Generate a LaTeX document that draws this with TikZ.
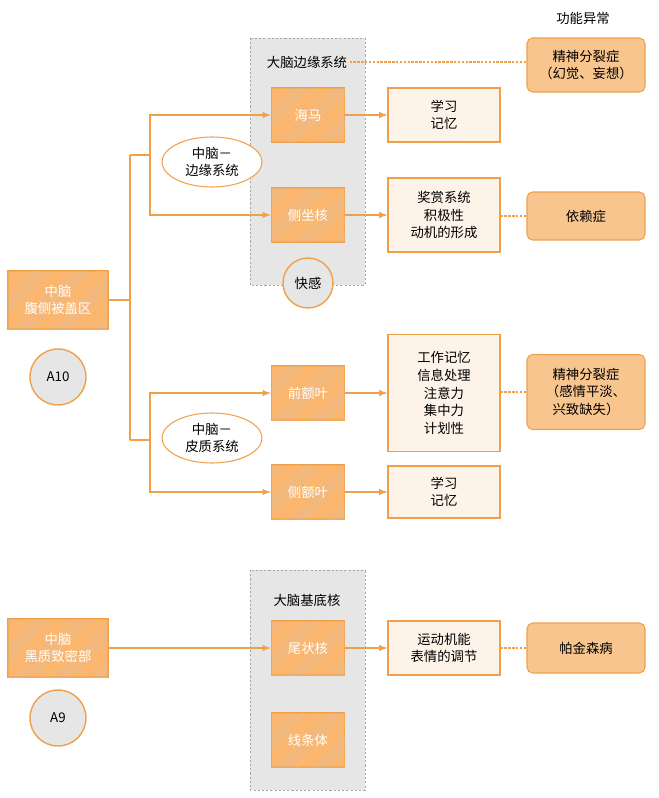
\documentclass[tikz,border=0pt]{standalone}
\usepackage{fontspec}
\setmainfont{Noto Sans CJK SC}
\usetikzlibrary{patterns,positioning,shapes.geometric}
\definecolor{org}{HTML}{F0A04B}
\definecolor{orgfill}{HTML}{F6B168}
\definecolor{pale}{HTML}{FDF3E8}
\definecolor{grayb}{HTML}{E6E6E6}
\tikzset{
  hatch/.style={draw=org, line width=2pt, fill=orgfill, text=white,
    postaction={pattern=north east lines, pattern color=orgfill!70!white}},
  mid/.style={hatch, minimum width=3.65cm, minimum height=2.7cm},
  info/.style={draw=org, line width=1.5pt, fill=pale, minimum width=5.6cm, align=center},
  ill/.style={draw=org, line width=1.5pt, fill=orgfill!75, rounded corners=8pt, minimum width=5.9cm, align=center},
  tag/.style={circle, draw=org, line width=2pt, fill=grayb, minimum size=2.8cm},
  sys/.style={ellipse, draw=org, line width=1.5pt, fill=white, align=center, minimum width=5cm, minimum height=2.5cm, inner sep=0pt},
  area/.style={draw=gray!70, dashed, line width=1pt, fill=grayb},
  con/.style={draw=org, line width=3pt},
  arr/.style={con, -latex},
  dot/.style={draw=org, line width=3.5pt, dotted}
}
\begin{document}
\begin{tikzpicture}[x=0.05cm, y=-0.05cm, font=\fontsize{19}{25}\selectfont]
\useasboundingbox (0,0) rectangle (658,798);
% grey areas
\filldraw[area] (250,38) rectangle (365,285);
\filldraw[area] (250,570) rectangle (365,790);
\node (limbic) at (307,62) {大脑边缘系统};
\node (basal) at (307,600) {大脑基底核};
\node (title) at (583,18) {功能异常};
% A10 pathway
\node[hatch, minimum width=5cm, minimum height=2.9cm, align=center] (vta) at (58,300) {中脑\\腹侧被盖区};
\node[tag] (a10) at (58,377) {A10};
\node[mid] (hippo) at (308,115) {海马};
\node[mid] (nacc) at (308,215) {侧坐核};
\node[tag, minimum size=2.5cm] (pleasure) at (308,283) {快感};
\node[mid] (pfc) at (308,393) {前额叶};
\node[mid] (ltc) at (308,492) {侧额叶};
\node[info, minimum height=2.7cm] (learn1) at (444,115) {学习\\记忆};
\node[info, minimum height=3.7cm] (reward) at (444,215) {奖赏系统\\积极性\\动机的形成};
\node[info, minimum height=5.85cm] (work) at (444,393) {工作记忆\\信息处理\\注意力\\集中力\\计划性};
\node[info, minimum height=2.6cm] (learn2) at (444,492) {学习\\记忆};
\node[ill, minimum height=2.7cm] (schizoA) at (586,65) {精神分裂症\\（幻觉、妄想）};
\node[ill, minimum height=2.4cm] (addict) at (586,216) {依赖症};
\node[ill, minimum height=3.75cm] (schizoB) at (586,392) {精神分裂症\\（感情平淡、\\兴致缺失）};
% junctions
\coordinate (j0) at (130,300);
\coordinate (j1) at (130,155);
\coordinate (j2) at (150,155);
\coordinate (j3) at (130,440);
\coordinate (j4) at (150,440);
\draw[con] (vta.east) -- (j0) (j1) -- (j3) (j1) -- (j2) (j3) -- (j4);
\draw[arr] (j2) |- (hippo.west);
\draw[arr] (j2) |- (nacc.west);
\draw[arr] (j4) |- (pfc.west);
\draw[arr] (j4) |- (ltc.west);
\node[sys] (meso) at (212,162) {中脑－\\边缘系统};
\node[sys] (meco) at (212,438) {中脑－\\皮质系统};
\draw[arr] (hippo) -- (learn1);
\draw[arr] (nacc) -- (reward);
\draw[arr] (pfc) -- (pfc -| work.west);
\draw[arr] (ltc) -- (learn2);
\draw[dot] (limbic.east) -- (limbic.east -| schizoA.west);
\draw[dot] (reward.east |- addict) -- (addict.west);
\draw[dot] (work.east |- schizoB) -- (schizoB.west);
% A9 pathway
\node[hatch, minimum width=5cm, minimum height=2.9cm, align=center] (snc) at (58,648) {中脑\\黑质致密部};
\node[tag] (a9) at (58,718) {A9};
\node[mid] (caud) at (308,648) {尾状核};
\node[mid] (stri) at (308,740) {线条体};
\node[info, minimum height=2.7cm] (motor) at (444,648) {运动机能\\表情的调节};
\node[ill, minimum height=2.5cm] (park) at (586,648) {帕金森病};
\draw[arr] (snc) -- (caud);
\draw[arr] (caud) -- (motor);
\draw[dot] (motor) -- (park);
\end{tikzpicture}
\end{document}
